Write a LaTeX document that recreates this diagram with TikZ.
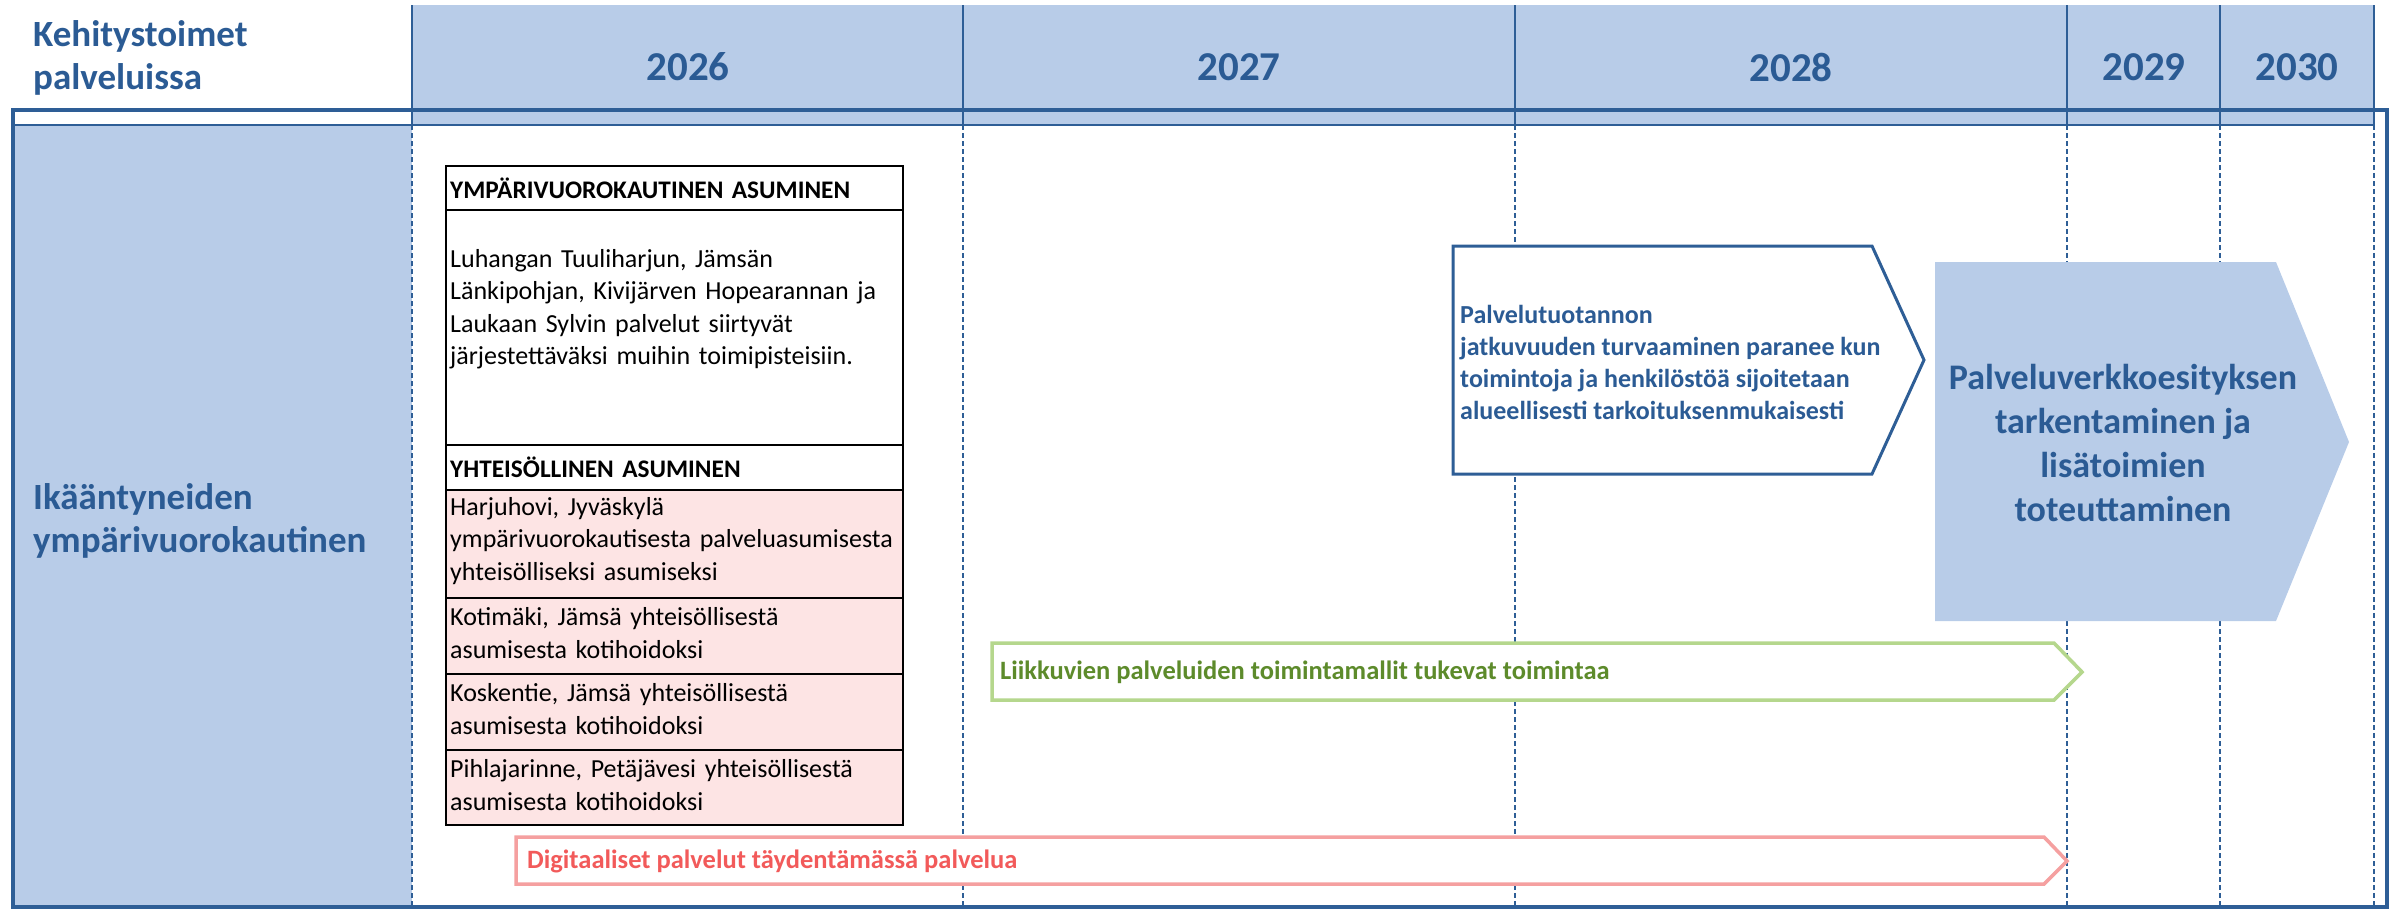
\documentclass[tikz,border=0pt]{standalone}
\usepackage{fontspec}
\setmainfont{Carlito}
\definecolor{dblue}{HTML}{2E5E96}
\definecolor{tblue}{HTML}{2B5B94}
\definecolor{lblue}{HTML}{B8CCE8}
\definecolor{lpink}{HTML}{FDE4E4}
\definecolor{gborder}{HTML}{B5D78D}
\definecolor{gtext}{HTML}{5D8B2B}
\definecolor{pborder}{HTML}{F5A0A0}
\definecolor{ptext}{HTML}{F25A5A}
\begin{document}
\begin{tikzpicture}[x=1pt,y=-1pt,
  yearlbl/.style={font=\bfseries\fontsize{41}{48}\selectfont, text=tblue, inner sep=0},
  celltxt/.style={anchor=west, inner sep=0, align=left, text width=450, font=\fontsize{26}{32.5}\selectfont},
  cellhead/.style={anchor=west, inner sep=0, align=left, text width=450, font=\bfseries\fontsize{25.3}{32}\selectfont},
  cellbox/.style={draw=black, line width=1.6},
  colsolid/.style={dblue, line width=2.5},
  coldash/.style={dblue, line width=1.3, dash pattern=on 5 off 3}]
\useasboundingbox (0,0) rectangle (2394,910);
% header band and left cell
\fill[lblue] (412,5) rectangle (2374,125);
\fill[lblue] (13,125) rectangle (412,907);
\foreach \x in {412,963,1515,2067,2220,2374} {
  \draw[colsolid] (\x,5) -- (\x,125);
  \draw[coldash] (\x,125) -- (\x,907);
}
\draw[dblue, line width=2.5] (13,125) -- (2374,125);
\draw[dblue, line width=4.5] (13,110) rectangle (2387,907);
% header texts
\node[anchor=west, inner sep=0, align=left, text=tblue, font=\bfseries\fontsize{37}{43}\selectfont] (title) at (33,58) {Kehitystoimet\\palveluissa};
\node[yearlbl] (y26) at (688,67) {2026};
\node[yearlbl] (y27) at (1239,67) {2027};
\node[yearlbl] (y28) at (1791,67) {2028};
\node[yearlbl] (y29) at (2144,67) {2029};
\node[yearlbl] (y30) at (2297,67) {2030};
\node[anchor=west, inner sep=0, align=left, text=tblue, font=\bfseries\fontsize{37}{43}\selectfont] (cat) at (33,521) {Ikääntyneiden\\ympärivuorokautinen};
% table
\draw[cellbox, fill=white] (446,166) rectangle (903,210);
\draw[cellbox, fill=white] (446,210) rectangle (903,445);
\draw[cellbox, fill=white] (446,445) rectangle (903,490);
\draw[cellbox, fill=lpink] (446,490) rectangle (903,598);
\draw[cellbox, fill=lpink] (446,598) rectangle (903,674);
\draw[cellbox, fill=lpink] (446,674) rectangle (903,750);
\draw[cellbox, fill=lpink] (446,750) rectangle (903,825);
\node[cellhead] (h1) at (450,188) {YMPÄRIVUOROKAUTINEN ASUMINEN};
\node[celltxt] (b1) at (450,309) {Luhangan Tuuliharjun, Jämsän\\Länkipohjan, Kivijärven Hopearannan ja\\Laukaan Sylvin palvelut siirtyvät\\järjestettäväksi muihin toimipisteisiin.};
\node[cellhead] (h2) at (450,467) {YHTEISÖLLINEN ASUMINEN};
\node[celltxt] (r1) at (450,541) {Harjuhovi, Jyväskylä\\ympärivuorokautisesta palveluasumisesta\\yhteisölliseksi asumiseksi};
\node[celltxt] (r2) at (450,633) {Kotimäki, Jämsä yhteisöllisestä\\asumisesta kotihoidoksi};
\node[celltxt] (r3) at (450,709) {Koskentie, Jämsä yhteisöllisestä\\asumisesta kotihoidoksi};
\node[celltxt] (r4) at (450,785) {Pihlajarinne, Petäjävesi yhteisöllisestä\\asumisesta kotihoidoksi};
% white arrow
\draw[dblue, line width=3, fill=white] (1453,246) -- (1872,246) -- (1924,360) -- (1872,474) -- (1453,474) -- cycle;
\node[anchor=west, inner sep=0, align=left, text=tblue, font=\bfseries\fontsize{26}{32}\selectfont] (wa) at (1460,362) {Palvelutuotannon\\jatkuvuuden turvaaminen paranee kun\\toimintoja ja henkilöstöä sijoitetaan\\alueellisesti tarkoituksenmukaisesti};
% big blue arrow
\fill[lblue] (1935,262) -- (2276,262) -- (2349,442) -- (2276,621) -- (1935,621) -- cycle;
\node[inner sep=0, align=center, text=tblue, font=\bfseries\fontsize{36}{44}\selectfont] (ba) at (2123,443) {Palveluverkkoesityksen\\tarkentaminen ja\\lisätoimien\\toteuttaminen};
% green arrow
\draw[gborder, line width=3.5, fill=white] (992,643) -- (2054,643) -- (2082,672) -- (2054,700) -- (992,700) -- cycle;
\node[anchor=west, inner sep=0, text=gtext, font=\bfseries\fontsize{26.5}{32}\selectfont] (ga) at (1000,672) {Liikkuvien palveluiden toimintamallit tukevat toimintaa};
% pink arrow
\draw[pborder, line width=3.5, fill=white] (516,837) -- (2044,837) -- (2067,861) -- (2044,884) -- (516,884) -- cycle;
\node[anchor=west, inner sep=0, text=ptext, font=\bfseries\fontsize{26.5}{32}\selectfont] (pa) at (527,861) {Digitaaliset palvelut täydentämässä palvelua};
\end{tikzpicture}
\end{document}
